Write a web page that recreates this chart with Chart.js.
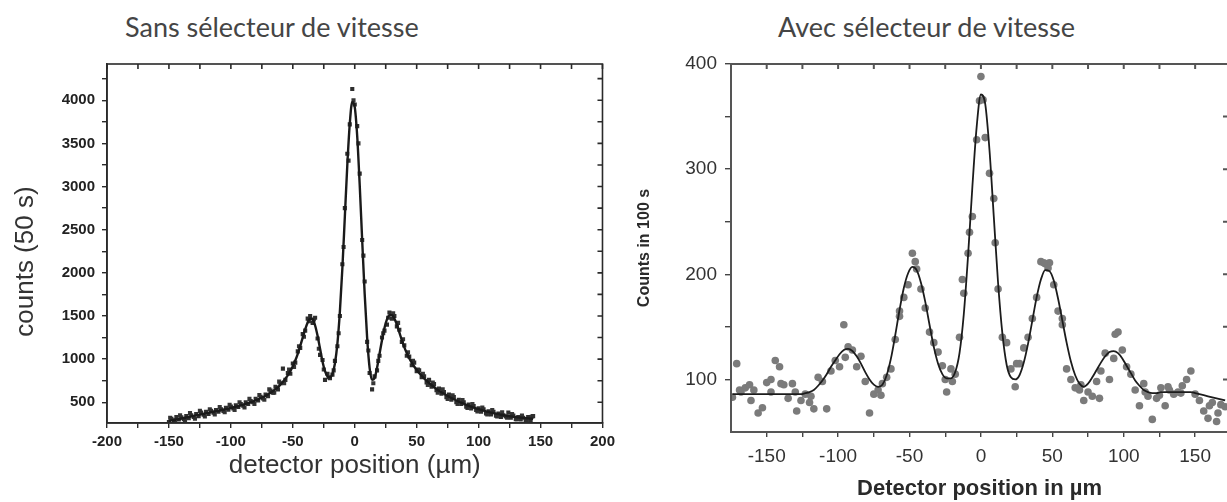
<!DOCTYPE html>
<html lang="fr">

<head>
    <meta charset="UTF-8">
    <title>Diffraction | vitesse</title>
    <script src="https://cdn.jsdelivr.net/npm/chart.js"></script>
    <style>
        body { margin: 0; background: #fff; width: 1227px; height: 502px; position: relative; overflow: hidden; }
        .titre { position: absolute; top: 11px; font-family: Lato, sans-serif; font-size: 27px; line-height: 32px; color: #454545; white-space: nowrap; }
        canvas { position: absolute; top: 0; }
    </style>
</head>

<body>
    <div class="titre" style="left: 125px">Sans sélecteur de vitesse</div>
    <div class="titre" style="left: 778px">Avec sélecteur de vitesse</div>

    <canvas id="myChart1" width="620" height="502" style="left: 0px"></canvas>
    <canvas id="myChart2" width="612" height="502" style="left: 620px"></canvas>
</body>

</html>

<script>
    // ---- gauche : sans selecteur (counts / 50 s) ----
    const positions1 = [-150, -148, -146, -144, -142, -140, -138, -136, -134, -132, -130, -128, -126, -124, -122, -120,
        -118, -116, -114, -112, -110, -108, -106, -104, -102, -100, -98, -96, -94, -92, -90, -88, -86, -84, -82, -80,
        -78, -76, -74, -72, -70, -68, -66, -64, -62, -60, -58, -56, -54, -52, -50, -48, -46, -44, -42, -40,
        -38, -36, -34, -32, -30, -28, -26, -24, -22, -20, -18, -16, -14, -12, -10, -8, -6, -4, -2, 0,
        2, 4, 6, 8, 10, 12, 14, 16, 18, 20, 22, 24, 26, 28, 30, 32, 34, 36, 38, 40,
        42, 44, 46, 48, 50, 52, 54, 56, 58, 60, 62, 64, 66, 68, 70, 72, 74, 76, 78, 80,
        82, 84, 86, 88, 90, 92, 94, 96, 98, 100, 102, 104, 106, 108, 110, 112, 114, 116, 118, 120,
        122, 124, 126, 128, 130, 132, 134, 136, 138, 140, 142, 144];

    const mesures1 = [270, 310, 290, 330, 300, 325, 305, 340, 315, 350, 330, 365, 340, 380, 355, 390,
        365, 400, 380, 410, 390, 420, 400, 435, 415, 450, 430, 465, 445, 480, 460, 500, 480, 515, 500, 540,
        520, 565, 545, 590, 570, 635, 610, 680, 650, 720, 890, 760, 840, 830, 950, 960, 1090, 1130, 1290, 1330,
        1470, 1500, 1420, 1480, 1240, 1050, 990, 760, 830, 780, 820, 980, 1150, 1500, 2100, 2750, 3380, 3720, 4130, 3950,
        3700, 3150, 2380, 1900, 1200, 840, 650, 800, 870, 1040, 1250, 1330, 1400, 1540, 1470, 1500, 1380, 1340, 1200, 1160,
        1040, 1030, 930, 960, 860, 870, 790, 800, 730, 760, 680, 710, 640, 660, 600, 620, 560, 590, 530, 560,
        500, 530, 480, 500, 450, 475, 430, 455, 410, 430, 390, 420, 370, 395, 360, 390, 345, 370, 330, 350,
        335, 380, 320, 345, 305, 330, 300, 320, 295, 330, 290, 340];

    // deuxieme passage (points intercales, meme courbe)
    const positions1b = [-149, -145, -141, -137, -133, -129, -125, -121, -117, -113, -109, -105, -101, -97, -93, -89,
        -85, -81, -77, -73, -69, -65, -61, -57, -53, -49, -45, -41, -37, -33, -29, -25, -21, -17, -13, -9,
        -5, -1, 3, 7, 11, 15, 19, 23, 27, 31, 35, 39, 43, 47, 51, 55, 59, 63, 67, 71,
        75, 79, 83, 87, 91, 95, 99, 103, 107, 111, 115, 119, 123, 127, 131, 135, 139, 143];

    const mesures1b = [320, 265, 350, 290, 375, 310, 400, 335, 420, 360, 445, 385, 470, 410, 500, 440,
        540, 480, 585, 530, 650, 610, 740, 720, 880, 910, 1150, 1260, 1440, 1460, 1120, 880, 790, 870, 1300, 2300,
        3300, 4000, 3500, 2200, 1100, 720, 980, 1300, 1480, 1530, 1420, 1230, 1080, 980, 880, 830, 700, 730, 610, 650,
        540, 580, 480, 525, 435, 480, 395, 440, 360, 410, 335, 385, 320, 365, 305, 345, 290, 335];

    const ajuste1 = [285, 290, 295, 300, 305, 312, 318, 324, 330, 336, 342, 348, 354, 360, 366, 372,
        378, 384, 390, 396, 402, 408, 414, 420, 427, 434, 441, 448, 456, 464, 472, 481, 490, 500, 511, 522,
        534, 547, 561, 576, 592, 610, 630, 652, 677, 705, 737, 773, 814, 862, 918, 984, 1062, 1152, 1250, 1345,
        1425, 1470, 1460, 1390, 1270, 1120, 970, 860, 800, 790, 830, 950, 1180, 1550, 2050, 2650, 3250, 3730, 3980, 3920,
        3580, 3020, 2380, 1760, 1250, 900, 760, 780, 900, 1060, 1220, 1360, 1460, 1510, 1510, 1470, 1400, 1310, 1220, 1140,
        1070, 1010, 960, 915, 875, 840, 808, 778, 750, 724, 700, 677, 655, 635, 616, 598, 581, 565, 550, 535,
        521, 508, 495, 483, 471, 460, 449, 439, 429, 420, 411, 403, 395, 388, 381, 374, 368, 362, 356, 351,
        346, 341, 337, 333, 329, 325, 322, 319, 316, 313, 311, 309];

    const ticksX1 = [-200, -175, -150, -125, -100, -75, -50, -25, 0, 25, 50, 75, 100, 125, 150, 175, 200];
    const labelsX1 = [-200, -150, -100, -50, 0, 50, 100, 150, 200];
    const ticksY1 = [500, 750, 1000, 1250, 1500, 1750, 2000, 2250, 2500, 2750, 3000, 3250, 3500, 3750, 4000, 4250];
    const labelsY1 = [500, 1000, 1500, 2000, 2500, 3000, 3500, 4000];

    // ---- droite : avec selecteur (counts in 100 s) ----
    const positions2 = [-174, -171, -168, -165, -162, -159, -156, -153, -150, -147, -144, -141, -138, -135, -132, -129,
        -126, -123, -120, -117, -114, -111, -108, -105, -102, -99, -96, -93, -90, -87, -84, -81, -78, -75, -72, -69,
        -66, -63, -60, -57, -54, -51, -48, -45, -42, -39, -36, -33, -30, -27, -24, -21, -18, -15, -12, -9,
        -6, -3, 0, 3, 6, 9, 12, 15, 18, 21, 24, 27, 30, 33, 36, 39, 42, 45, 48, 51,
        54, 57, 60, 63, 66, 69, 72, 75, 78, 81, 84, 87, 90, 93, 96, 99, 102, 105, 108, 111,
        114, 117, 120, 123, 126, 129, 132, 135, 138, 141, 144, 147, 150, 153, 156, 159, 162, 165, 168,
        -1, 1.5, -8, 10, -13, 44, 47, -46, 94, -95, -140, -147, -161, -169, 131, 140, 160, 166, -25, -20,
        25, 70, -70, 115, 125, -130, -119, 57, -57, 83, 171];

    const mesures2 = [83, 115, 88, 92, 95, 90, 68, 73, 97, 100, 118, 112, 95, 82, 96, 70,
        80, 86, 78, 72, 102, 98, 72, 108, 118, 112, 152, 131, 128, 112, 122, 98, 68, 86, 90, 96,
        102, 110, 138, 160, 178, 190, 220, 205, 186, 168, 145, 135, 126, 113, 88, 110, 105, 140, 182, 220,
        255, 328, 388, 330, 296, 272, 186, 140, 135, 110, 93, 115, 130, 140, 158, 178, 212, 210, 211, 190,
        165, 158, 110, 100, 92, 90, 80, 88, 84, 98, 108, 125, 100, 120, 145, 128, 112, 105, 90, 75,
        96, 84, 62, 82, 92, 75, 90, 86, 88, 94, 100, 108, 86, 80, 70, 63, 78, 60, 76,
        365, 366, 240, 230, 195, 211, 206, 212, 143, 121, 96, 88, 80, 90, 93, 87, 75, 68, 100, 98,
        115, 95, 85, 88, 85, 88, 84, 152, 165, 82, 74];

    const positionsAjuste2 = [-174, -171, -168, -165, -162, -159, -156, -153, -150, -147, -144, -141, -138, -135, -132, -129,
        -126, -123, -120, -117, -114, -111, -108, -105, -102, -99, -96, -93, -90, -87, -84, -81, -78, -75, -72, -69,
        -66, -63, -60, -57, -54, -51, -48, -45, -42, -39, -36, -33, -30, -27, -24, -21, -18, -15, -12, -9,
        -6, -3, 0, 3, 6, 9, 12, 15, 18, 21, 24, 27, 30, 33, 36, 39, 42, 45, 48, 51,
        54, 57, 60, 63, 66, 69, 72, 75, 78, 81, 84, 87, 90, 93, 96, 99, 102, 105, 108, 111,
        114, 117, 120, 123, 126, 129, 132, 135, 138, 141, 144, 147, 150, 153, 156, 159, 162, 165, 168, 171];

    const ajuste2 = [86, 86, 86, 86, 86, 86, 86, 86, 86, 86, 86, 86, 86, 86, 86, 86,
        86, 87, 88, 90, 94, 99, 105, 112, 118, 124, 128, 129, 127, 122, 115, 107, 100, 95, 93, 95,
        104, 120, 142, 166, 187, 201, 207, 204, 192, 174, 152, 131, 115, 105, 101, 101, 107, 125, 162, 218,
        283, 340, 371, 362, 318, 255, 192, 144, 114, 102, 100, 104, 116, 134, 156, 178, 195, 204, 203, 194,
        177, 156, 135, 117, 104, 96, 93, 96, 102, 109, 116, 122, 126, 127, 125, 120, 113, 106, 99, 94,
        90, 88, 87, 87, 88, 88, 88, 88, 88, 88, 88, 88, 87, 86, 85, 84, 83, 82, 81, 80];

    const ticksX2 = [-150, -125, -100, -75, -50, -25, 0, 25, 50, 75, 100, 125, 150];
    const labelsX2 = [-150, -100, -50, 0, 50, 100, 150];
    const ticksY2 = [100, 150, 200, 250, 300, 350, 400];
    const labelsY2 = [100, 200, 300, 400];

    // cadre + petits ticks vers l'interieur (haut et droite)
    const cadre = {
        id: 'cadre',
        afterDraw(chart, args, opts) {
            const { ctx, chartArea, scales } = chart;
            ctx.save();
            ctx.strokeStyle = opts.color;
            ctx.lineWidth = opts.width;
            ctx.strokeRect(chartArea.left, chartArea.top, chartArea.right - chartArea.left, chartArea.bottom - chartArea.top);
            ctx.beginPath();
            scales.x.ticks.forEach(function (t) {
                let px = scales.x.getPixelForValue(t.value);
                ctx.moveTo(px, chartArea.top);
                ctx.lineTo(px, chartArea.top + opts.tick);
            });
            scales.y.ticks.forEach(function (t) {
                let py = scales.y.getPixelForValue(t.value);
                ctx.moveTo(chartArea.right, py);
                ctx.lineTo(chartArea.right - opts.tick, py);
            });
            ctx.stroke();
            ctx.restore();
        }
    };

    function pares(xs, ys) {
        let lista = [];
        for (let i = 0; i < xs.length; i += 1) {
            lista.push({ x: xs[i], y: ys[i] });
        }
        return lista;
    }

    function plotarGraficoSans() {
        const fonteTicks = { family: 'Liberation Sans, Arial, sans-serif', size: 15, weight: 'bold' };
        const fonteTitre = { family: 'Liberation Sans, Arial, sans-serif', size: 26 };

        const config = {
            type: 'scatter',
            data: {
                datasets: [{
                    label: 'fit',
                    data: pares(positions1, ajuste1),
                    showLine: true,
                    borderColor: '#1a1a1a',
                    borderWidth: 2.4,
                    pointRadius: 0,
                    cubicInterpolationMode: 'monotone'
                }, {
                    label: 'counts',
                    data: pares(positions1, mesures1),
                    pointStyle: 'rect',
                    pointRadius: 2.9,
                    backgroundColor: '#2e2e2e',
                    borderWidth: 0
                }, {
                    label: 'counts b',
                    data: pares(positions1b, mesures1b),
                    pointStyle: 'rect',
                    pointRadius: 2.9,
                    backgroundColor: '#363636',
                    borderWidth: 0
                }]
            },
            options: {
                responsive: false,
                animation: false,
                layout: { padding: { top: 64, right: 17, bottom: 0, left: 0 } },
                plugins: {
                    legend: { display: false },
                    tooltip: { enabled: false },
                    cadre: { color: '#2a2a2a', width: 1.6, tick: 5 }
                },
                scales: {
                    x: {
                        type: 'linear',
                        min: -200,
                        max: 200,
                        afterFit: function (s) { s.height = 79; },
                        afterBuildTicks: function (s) { s.ticks = ticksX1.map(v => ({ value: v })); },
                        ticks: {
                            autoSkip: false,
                            maxRotation: 0,
                            padding: 5,
                            color: '#222',
                            font: fonteTicks,
                            callback: v => labelsX1.includes(v) ? String(v) : ''
                        },
                        grid: { drawOnChartArea: false, color: '#2a2a2a', tickLength: 5, lineWidth: 1.4 },
                        border: { color: '#2a2a2a', width: 1.6 },
                        title: {
                            display: true,
                            text: 'detector position (µm)',
                            color: '#333',
                            font: fonteTitre,
                            padding: { top: 0, bottom: 21 }
                        }
                    },
                    y: {
                        min: 260,
                        max: 4420,
                        afterFit: function (s) { s.width = 107; },
                        afterBuildTicks: function (s) { s.ticks = ticksY1.map(v => ({ value: v })); },
                        ticks: {
                            autoSkip: false,
                            padding: 7,
                            color: '#222',
                            font: fonteTicks,
                            callback: v => labelsY1.includes(v) ? String(v) : ''
                        },
                        grid: { drawOnChartArea: false, color: '#2a2a2a', tickLength: 5, lineWidth: 1.4 },
                        border: { color: '#2a2a2a', width: 1.6 },
                        title: {
                            display: true,
                            // espaces en fin : le titre est un peu sous le centre dans l'original
                            text: 'counts (50 s)\u00a0\u00a0\u00a0\u00a0\u00a0',
                            color: '#333',
                            font: fonteTitre,
                            padding: { top: 10, bottom: 0 }
                        }
                    }
                }
            },
            plugins: [cadre]
        };

        let myChart = new Chart(document.getElementById('myChart1'), config);
    }

    function plotarGraficoAvec() {
        const fonteTicks = { family: 'Liberation Sans, Arial, sans-serif', size: 19 };

        const config = {
            type: 'scatter',
            data: {
                datasets: [{
                    label: 'fit',
                    data: pares(positionsAjuste2, ajuste2),
                    showLine: true,
                    borderColor: '#1c1c1c',
                    borderWidth: 1.8,
                    pointRadius: 0,
                    cubicInterpolationMode: 'monotone'
                }, {
                    label: 'counts',
                    data: pares(positions2, mesures2),
                    pointStyle: 'circle',
                    pointRadius: 3.8,
                    backgroundColor: '#7b7b7b',
                    borderWidth: 0
                }]
            },
            options: {
                responsive: false,
                animation: false,
                layout: { padding: { top: 64, right: 0, bottom: 0, left: 0 } },
                plugins: {
                    legend: { display: false },
                    tooltip: { enabled: false },
                    cadre: { color: '#555', width: 2, tick: 5 }
                },
                scales: {
                    x: {
                        type: 'linear',
                        min: -175,
                        max: 173,
                        afterFit: function (s) { s.height = 70; },
                        afterBuildTicks: function (s) { s.ticks = ticksX2.map(v => ({ value: v })); },
                        ticks: {
                            autoSkip: false,
                            maxRotation: 0,
                            padding: 8,
                            color: '#333',
                            font: fonteTicks,
                            callback: v => labelsX2.includes(v) ? String(v) : ''
                        },
                        grid: { drawOnChartArea: false, color: '#444', tickLength: 5, lineWidth: 1.4 },
                        border: { color: '#555', width: 2 },
                        title: {
                            display: true,
                            text: 'Detector position in µm',
                            color: '#2a2a2a',
                            font: { family: 'Liberation Sans, Arial, sans-serif', size: 22, weight: 'bold' },
                            padding: { top: 0, bottom: 0 }
                        }
                    },
                    y: {
                        min: 50,
                        max: 400,
                        afterFit: function (s) { s.width = 111; },
                        afterBuildTicks: function (s) { s.ticks = ticksY2.map(v => ({ value: v })); },
                        ticks: {
                            autoSkip: false,
                            padding: 8,
                            color: '#333',
                            font: fonteTicks,
                            callback: v => labelsY2.includes(v) ? String(v) : ''
                        },
                        grid: { drawOnChartArea: false, color: '#444', tickLength: 6, lineWidth: 1.4 },
                        border: { color: '#555', width: 2 },
                        title: {
                            display: true,
                            text: 'Counts in 100 s',
                            color: '#2a2a2a',
                            font: { family: 'Liberation Sans, Arial, sans-serif', size: 16, weight: 'bold' },
                            padding: { top: 15, bottom: 0 }
                        }
                    }
                }
            },
            plugins: [cadre]
        };

        let myChart = new Chart(document.getElementById('myChart2'), config);
    }

    plotarGraficoSans();
    plotarGraficoAvec();
</script>
